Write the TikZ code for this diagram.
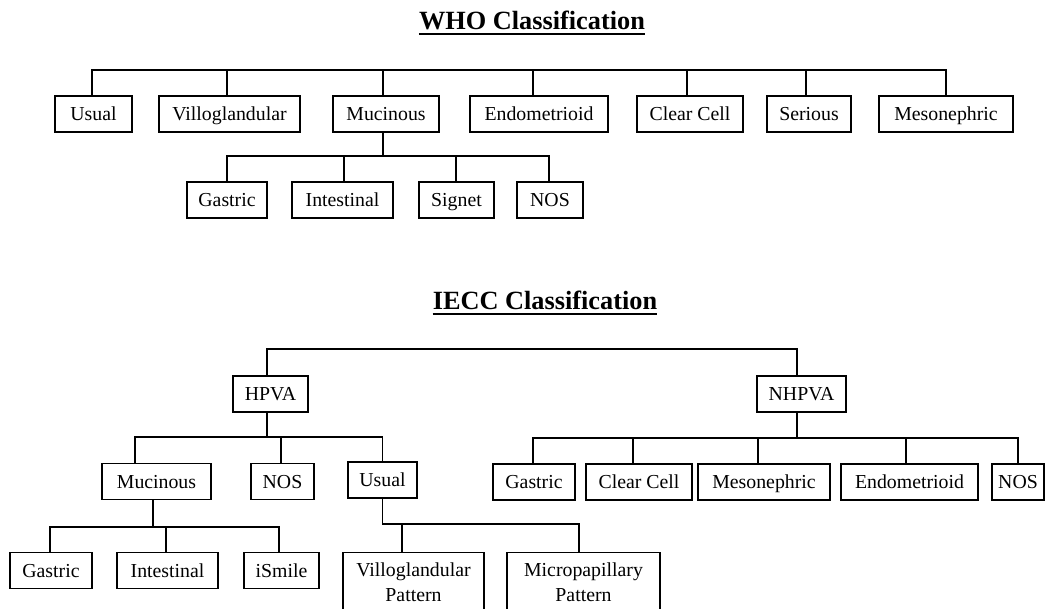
\documentclass[tikz,border=0pt]{standalone}
\usepackage{fontspec}
\setmainfont{Liberation Serif}
\begin{document}
\begin{tikzpicture}[x=1pt,y=-1pt,
  box/.style={draw, line width=1.3pt, inner sep=0pt, minimum height=36pt,
    font=\fontsize{19.8}{24}\selectfont, text height=13pt, text depth=0pt},
  tbox/.style={draw, line width=1.3pt, inner xsep=0pt, inner ysep=10pt, anchor=north,
    align=center, font=\fontsize{19.8}{25}\selectfont},
  ttl/.style={font=\fontsize{26.3}{30}\selectfont\bfseries, inner sep=0pt, anchor=base},
  uline/.style={line width=2pt},
  conn/.style={line width=1.3pt}]
\useasboundingbox (0,0) rectangle (1046,609);
\clip (0,0) rectangle (1046,609);
\fill[white] (0,0) rectangle (1046,609);

% ---------------- WHO ----------------
\node[ttl] (t1) at (532,30) {WHO Classification};
\draw[uline] ([yshift=-4pt]t1.base west) -- ([yshift=-4pt]t1.base east);

\coordinate (b1) at (0,70);
\coordinate (b2) at (0,156);

\node[box, minimum width=77]  (w1) at (93.5,114) {Usual};
\node[box, minimum width=141] (w2) at (229.5,114) {Villoglandular};
\node[box, minimum width=106] (w3) at (386,114) {Mucinous};
\node[box, minimum width=138] (w4) at (539,114) {Endometrioid};
\node[box, minimum width=106] (w5) at (690,114) {Clear Cell};
\node[box, minimum width=84]  (w6) at (809,114) {Serious};
\node[box, minimum width=134] (w7) at (946,114) {Mesonephric};

\draw[conn] ([xshift=-1.5pt]w1.north) |- (w7.north |- b1) -- (w7.north);
\draw[conn] ([xshift=-2.5pt]w2.north) -- ([xshift=-2.5pt]w2.north |- b1);
\draw[conn] ([xshift=-3pt]w3.north) -- ([xshift=-3pt]w3.north |- b1);
\draw[conn] ([xshift=-6pt]w4.north) -- ([xshift=-6pt]w4.north |- b1);
\draw[conn] ([xshift=-3pt]w5.north) -- ([xshift=-3pt]w5.north |- b1);
\draw[conn] ([xshift=-3pt]w6.north) -- ([xshift=-3pt]w6.north |- b1);

\node[box, minimum width=80]  (w8)  at (227,200) {Gastric};
\node[box, minimum width=101] (w9)  at (342.5,200) {Intestinal};
\node[box, minimum width=75]  (w10) at (456.5,200) {Signet};
\node[box, minimum width=66]  (w11) at (550,200) {NOS};

\draw[conn] ([xshift=-3pt]w3.south) -- ([xshift=-3pt]w3.south |- b2);
\draw[conn] (w8.north) |- ([xshift=-1pt]w11.north |- b2) -- ([xshift=-1pt]w11.north);
\draw[conn] ([xshift=1.5pt]w9.north) -- ([xshift=1.5pt]w9.north |- b2);
\draw[conn] ([xshift=-0.5pt]w10.north) -- ([xshift=-0.5pt]w10.north |- b2);

% ---------------- IECC ----------------
\node[ttl] (t2) at (545,310) {IECC Classification};
\draw[uline] ([yshift=-4pt]t2.base west) -- ([yshift=-4pt]t2.base east);

\coordinate (b3) at (0,349);
\coordinate (b4) at (0,437);
\coordinate (b5) at (0,438);
\coordinate (b6) at (0,527);
\coordinate (b7) at (0,524);

\node[box, minimum width=75] (h1) at (270.5,394) {HPVA};
\node[box, minimum width=89] (h2) at (801.5,394) {NHPVA};
\draw[conn] ([xshift=-3.5pt]h1.north) |- ([xshift=-4.5pt]h2.north |- b3) -- ([xshift=-4.5pt]h2.north);

% HPVA children
\node[box, minimum width=109] (m1) at (156.5,481.5) {Mucinous};
\node[box, minimum width=63]  (m2) at (282.5,481.5) {NOS};
\node[box, minimum width=69]  (m3) at (382.5,480) {Usual};
\draw[conn] ([xshift=-3.5pt]h1.south) -- ([xshift=-3.5pt]h1.south |- b4);
\draw[conn] ([xshift=-21.5pt]m1.north) |- (m3.north |- b4) -- (m3.north);
\draw[conn] ([xshift=-1.5pt]m2.north) -- ([xshift=-1.5pt]m2.north |- b4);

% NHPVA children
\node[box, minimum width=82]  (n1) at (534,482) {Gastric};
\node[box, minimum width=106] (n2) at (639,482) {Clear Cell};
\node[box, minimum width=132] (n3) at (764,482) {Mesonephric};
\node[box, minimum width=137] (n4) at (909.5,482) {Endometrioid};
\node[box, minimum width=52]  (n5) at (1018,482) {NOS};
\draw[conn] ([xshift=-4.5pt]h2.south) -- ([xshift=-4.5pt]h2.south |- b5);
\draw[conn] ([xshift=-1pt]n1.north) |- (n5.north |- b5) -- (n5.north);
\draw[conn] ([xshift=-6pt]n2.north) -- ([xshift=-6pt]n2.north |- b5);
\draw[conn] ([xshift=-6pt]n3.north) -- ([xshift=-6pt]n3.north |- b5);
\draw[conn] ([xshift=-3.5pt]n4.north) -- ([xshift=-3.5pt]n4.north |- b5);

% Mucinous children
\node[box, minimum width=82]  (g1) at (51,570.5) {Gastric};
\node[box, minimum width=101] (g2) at (167.5,570.5) {Intestinal};
\node[box, minimum width=75]  (g3) at (281.5,570.5) {iSmile};
\draw[conn] ([xshift=-3.5pt]m1.south) -- ([xshift=-3.5pt]m1.south |- b6);
\draw[conn] ([xshift=-1pt]g1.north) |- ([xshift=-2.5pt]g3.north |- b6) -- ([xshift=-2.5pt]g3.north);
\draw[conn] ([xshift=-1.5pt]g2.north) -- ([xshift=-1.5pt]g2.north |- b6);

% Usual children
\node[tbox, minimum width=141] (p1) at (413.5,552) {Villoglandular\\Pattern\strut};
\node[tbox, minimum width=153] (p2) at (583.5,552) {Micropapillary\\Pattern\strut};
\draw[conn] (m3.south) |- ([xshift=-4.5pt]p2.north |- b7) -- ([xshift=-4.5pt]p2.north);
\draw[conn] ([xshift=-11.5pt]p1.north) -- ([xshift=-11.5pt]p1.north |- b7);
\end{tikzpicture}
\end{document}
